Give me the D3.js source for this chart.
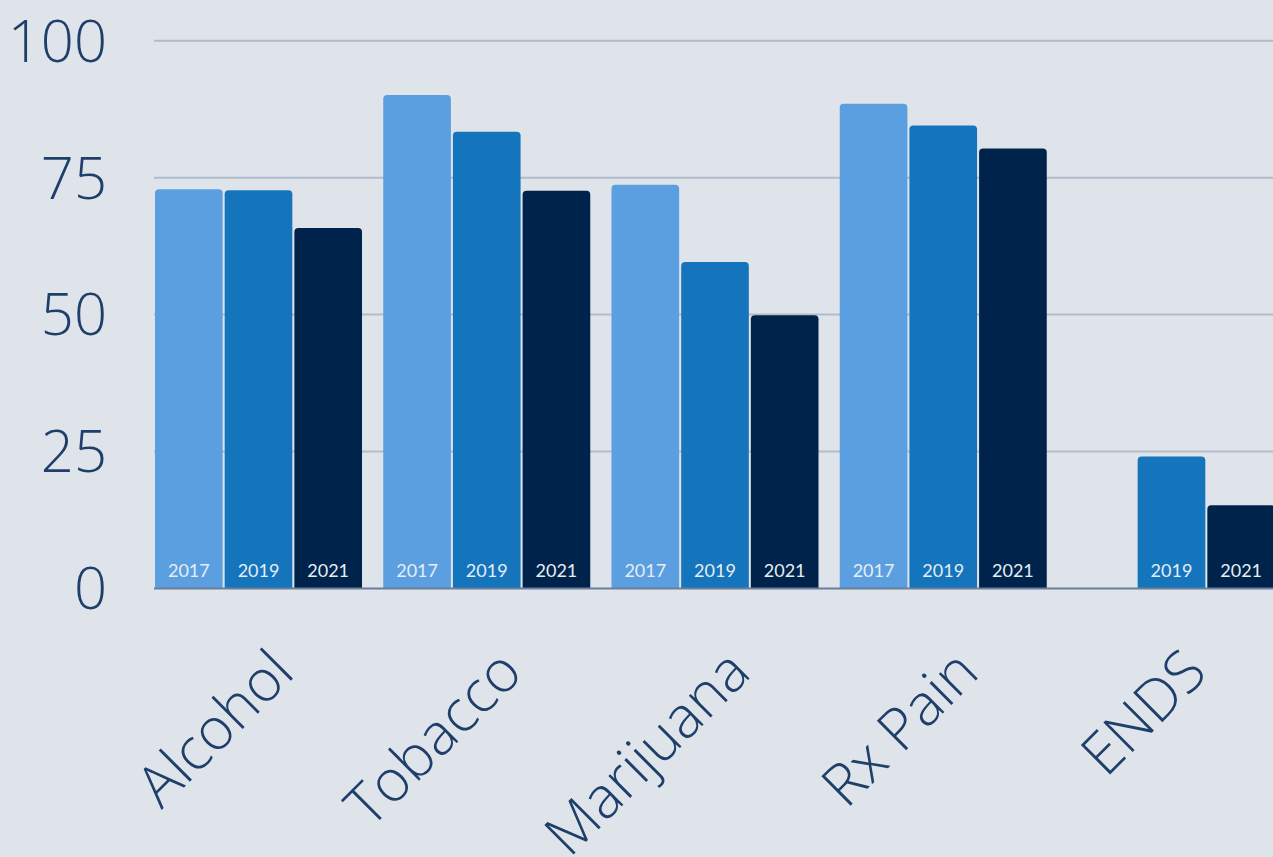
<!DOCTYPE html>
<html>
<head>
<meta charset="utf-8">
<script src="https://cdn.jsdelivr.net/npm/d3@7"></script>
<style>
  body { margin: 0; background: #dfe4eb; overflow: hidden; }
  svg { display: block; }
</style>
</head>
<body>
<script>
// data
const categories = ["Alcohol", "Tobacco", "Marijuana", "Rx Pain", "ENDS"];
const years = ["2017", "2019", "2021"];
const values2017 = [72.9, 90.1, 73.7, 88.5, null];
const values2019 = [72.7, 83.4, 59.6, 84.5, 24.1];
const values2021 = [65.8, 72.6, 49.9, 80.3, 15.2];
const yTicks = [0, 25, 50, 75, 100];

const seriesValues = [values2017, values2019, values2021];
const colors = ["#5b9fe1", "#1474bc", "#00234b"];

const width = 1273, height = 857;

const svg = d3.select('body').append('svg')
  .attr('width', width)
  .attr('height', height);

// scales
const x0 = d3.scaleBand()
  .domain(categories)
  .range([155, 1275])
  .paddingInner(0.093)
  .paddingOuter(0);

const x1 = d3.scaleBand()
  .domain(years)
  .range([0, x0.bandwidth()])
  .paddingInner(0.029);

const y = d3.scaleLinear()
  .domain([0, 100])
  .range([588.5, 40.7]);

const color = d3.scaleOrdinal().domain(years).range(colors);

// gridlines
svg.append('g')
  .selectAll('line')
  .data(yTicks.filter(d => d > 0))
  .enter()
  .append('line')
  .attr('x1', 154)
  .attr('x2', width)
  .attr('y1', d => y(d))
  .attr('y2', d => y(d))
  .attr('stroke', '#b1bccb')
  .attr('stroke-width', 2);

// y tick labels
svg.append('g')
  .selectAll('text')
  .data(yTicks)
  .enter()
  .append('text')
  .attr('x', 107)
  .attr('y', d => y(d))
  .attr('dy', '0.36em')
  .attr('text-anchor', 'end')
  .attr('font-family', 'Open Sans')
  .attr('font-weight', 300)
  .attr('font-size', 58)
  .attr('fill', '#1f3f6b')
  .text(d => d);

// flatten data for bars
const bars = [];
categories.forEach((c, i) => {
  years.forEach((yr, j) => {
    const v = seriesValues[j][i];
    if (v != null) bars.push({category: c, year: yr, value: v});
  });
});

// bar with rounded top corners
function barPath(d) {
  const bx = x0(d.category) + x1(d.year);
  const bw = x1.bandwidth();
  const top = y(d.value), bottom = y(0);
  const r = 4;
  return `M${bx},${bottom}V${top + r}Q${bx},${top} ${bx + r},${top}` +
    `H${bx + bw - r}Q${bx + bw},${top} ${bx + bw},${top + r}V${bottom}Z`;
}

const barGroup = svg.append('g');

barGroup.selectAll('path')
  .data(bars)
  .enter()
  .append('path')
  .attr('d', barPath)
  .attr('fill', d => color(d.year));

// year labels inside bars
barGroup.selectAll('text')
  .data(bars)
  .enter()
  .append('text')
  .attr('x', d => x0(d.category) + x1(d.year) + x1.bandwidth() / 2)
  .attr('y', 577)
  .attr('text-anchor', 'middle')
  .attr('font-family', 'Lato')
  .attr('font-size', 18)
  .attr('fill', '#e6edf5')
  .text(d => d.year);

// baseline
svg.append('line')
  .attr('x1', 154)
  .attr('x2', width)
  .attr('y1', y(0))
  .attr('y2', y(0))
  .attr('stroke', '#6b7f9c')
  .attr('stroke-width', 2);

// category labels, rotated
svg.append('g')
  .selectAll('text')
  .data(categories)
  .enter()
  .append('text')
  .attr('text-anchor', 'end')
  .attr('font-family', 'Open Sans')
  .attr('font-weight', 300)
  .attr('font-size', 58)
  .attr('fill', '#1f3f6b')
  .attr('transform', d => {
    const cx = x0(d) + x0.bandwidth() / 2 + 38;
    return `translate(${cx},675) rotate(-45)`;
  })
  .text(d => d);
</script>
</body>
</html>
